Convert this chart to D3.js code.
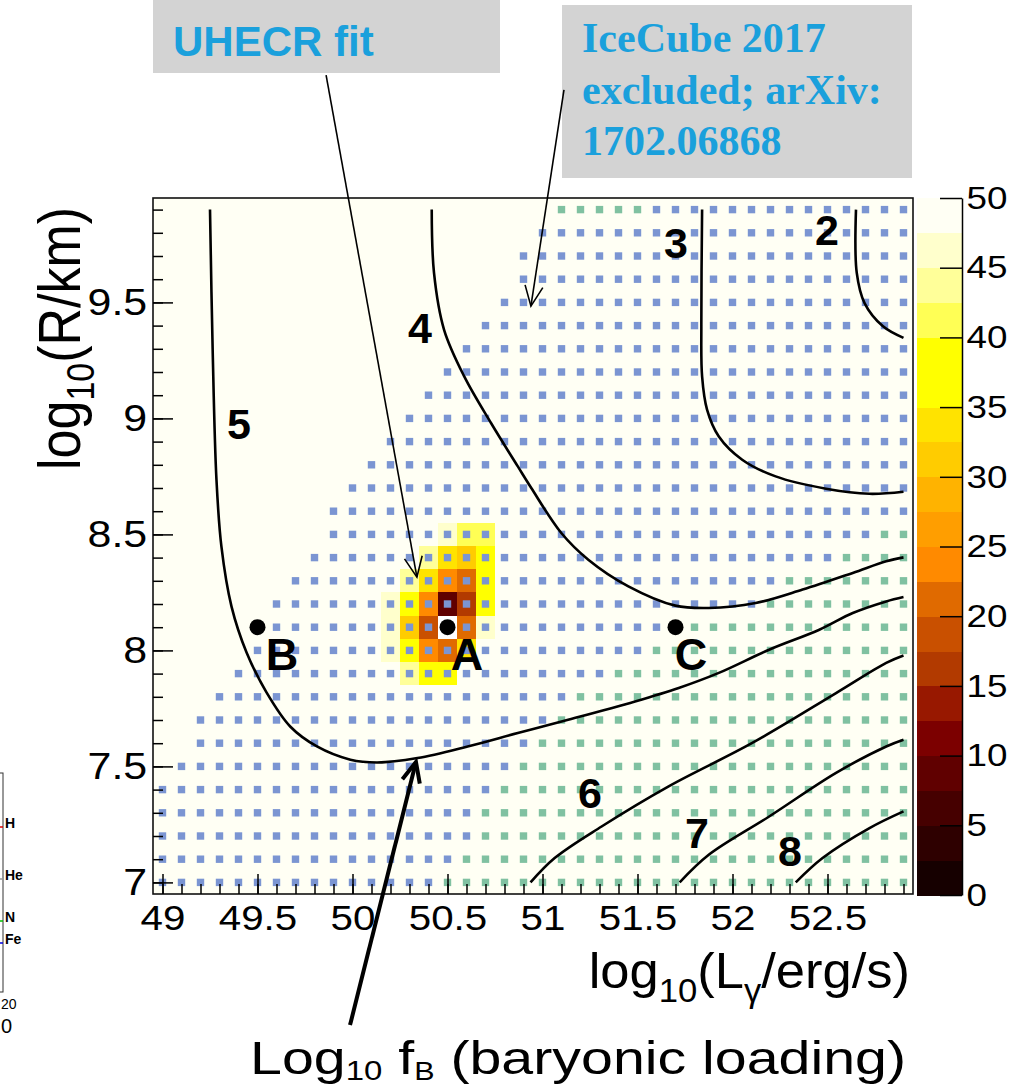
<!DOCTYPE html>
<html><head><meta charset="utf-8">
<script src="https://cdn.jsdelivr.net/npm/d3@7"></script>
<style>body{margin:0;background:#fff}svg{display:block}</style>
</head><body><svg id="c" width="1017" height="1090"></svg>
<script>
// ---------------- DATA ----------------
const xTicks = [49, 49.5, 50, 50.5, 51, 51.5, 52, 52.5];
const yTicks = [7, 7.5, 8, 8.5, 9, 9.5];
const zTicks = [0, 5, 10, 15, 20, 25, 30, 35, 40, 45, 50];
const bandEdges = [0,2.5,5,7.5,10,12.5,15,17.5,20,22.5,25,27.5,30,32.5,35,37.5,40,42.5,45,47.5,50];
const bandColors = ["#160000","#2e0000","#460000","#600000","#7c0000","#981800","#b23a00","#c95000",
  "#e06a00","#ff8a00","#ff9e00","#ffb300","#ffcc00","#ffe300","#ffff00","#ffff00","#ffff55","#ffff99","#ffffcc","#fffff4"];

// heat-map bins (0.1 x 0.1), all other bins are at the cap value
const binX0 = 49.0, binY0 = 7.0, nBinX = 40, nBinY = 30, binStep = 0.1;
const heatDefault = 50;
const heatX = [50.5,50.6,50.7, 50.4,50.5,50.6,50.7, 50.3,50.4,50.5,50.6,50.7, 50.2,50.3,50.4,50.5,50.6,50.7,
               50.2,50.3,50.4,50.5,50.6,50.7, 50.2,50.3,50.4,50.5,50.6, 50.3,50.4,50.5];
const heatY = [8.5,8.5,8.5, 8.4,8.4,8.4,8.4, 8.3,8.3,8.3,8.3,8.3, 8.2,8.2,8.2,8.2,8.2,8.2,
               8.1,8.1,8.1,8.1,8.1,8.1, 8.0,8.0,8.0,8.0,8.0, 7.9,7.9,7.9];
const heatV = [46,41,41, 43,33.5,30.5,38.5, 43,34,23.5,21,38.5, 46,38.5,23.5,9,16,38.5,
               46,32,18.5,0,21,46, 46,38.5,23.5,21,34, 43,38.5,38.5];

// marker grid rows (top to bottom): blue (allowed) and green (IceCube-excluded) ranges
const dotRowY   = [9.9,9.8,9.7,9.6,9.5,9.4,9.3,9.2,9.1,9.0,8.9,8.8,8.7,8.6,8.5,8.4,8.3,8.2,8.1,8.0,7.9,7.8,7.7,7.6,7.5,7.4,7.3,7.2,7.1,7.0];
const blueFrom  = [51.6,51.0,50.9,50.9,50.8,50.7,50.6,50.5,50.4,50.3,50.2,50.1,50.0,49.9,49.9,49.8,49.7,49.6,49.6,49.5,49.4,49.3,49.2,49.2,49.1,49.0,49.0,49.0,49.0,49.0];
const blueTo    = [52.9,52.9,52.9,52.9,52.9,52.9,52.9,52.9,52.9,52.9,52.9,52.9,52.9,52.9,52.7,52.5,52.2,52.1,51.6,51.5,51.3,51.1,51.0,50.9,50.8,50.7,50.6,50.6,50.5,50.4];
const greenFrom = [51.1,null,null,null,null,null,null,null,null,null,null,null,null,null,52.8,52.6,52.3,52.2,51.7,51.6,51.4,51.2,51.1,51.0,50.9,50.8,50.7,50.7,50.6,50.5];
const greenTo   = [51.5,null,null,null,null,null,null,null,null,null,null,null,null,null,52.9,52.9,52.9,52.9,52.9,52.9,52.9,52.9,52.9,52.9,52.9,52.9,52.9,52.9,52.9,52.9];

// baryonic-loading contours
const contourLabel = ["2","3","4","5","6","7","8"];
const contourX = [
  [52.65,52.654,52.695,52.792,52.9],
  [51.84,51.836,51.84,51.866,51.928,52.051,52.227,52.492,52.721,52.9],
  [50.417,50.429,50.482,50.588,50.729,50.870,50.941,51.099,51.241,51.452,51.699,51.875,52.122,52.369,52.633,52.809,52.9],
  [49.25,49.264,49.284,49.31,49.363,49.443,49.548,49.672,49.813,49.989,50.13,50.342,50.606,50.87,51.135,51.487,51.717,51.928,52.193,52.457,52.633,52.809,52.9],
  [50.937,51.064,51.311,51.664,52.104,52.545,52.809,52.9],
  [51.722,51.875,52.193,52.545,52.809,52.9],
  [52.333,52.474,52.721,52.9]
];
const contourY = [
  [9.9,9.627,9.497,9.397,9.347],
  [9.9,9.411,9.181,9.038,8.922,8.822,8.75,8.697,8.675,8.684],
  [9.9,9.627,9.382,9.181,8.98,8.793,8.70,8.506,8.391,8.276,8.193,8.183,8.204,8.262,8.334,8.384,8.401],
  [9.9,9.296,8.736,8.448,8.19,7.99,7.818,7.672,7.586,7.529,7.517,7.536,7.586,7.644,7.701,7.78,7.838,7.903,8.003,8.089,8.161,8.211,8.23],
  [7.0,7.105,7.241,7.414,7.601,7.816,7.946,7.978],
  [7.0,7.119,7.284,7.472,7.586,7.615],
  [7.0,7.105,7.234,7.306]
];
const contourLabelX = [52.497,51.703,50.355,49.403,51.250,51.813,52.303];
const contourLabelY = [9.812,9.756,9.390,8.976,7.385,7.213,7.135];

// benchmark points
const pointName = ["A","B","C"];
const pointX = [50.5, 49.5, 51.7];
const pointY = [8.1, 8.1, 8.1];
const pointLabelX = [50.603, 49.629, 51.782];
const pointLabelY = [7.984, 7.984, 7.984];

// annotation arrows [startX, startY] -> [tipX, tipY] in data units
const arrowName = ["UHECR", "IceCube", "baryon"];
const arrowX0 = [49.861, 51.113, 49.987];
const arrowY0 = [10.480, 10.416, 6.385];
const arrowX1 = [50.339, 50.939, 50.334];
const arrowY1 = [8.316, 9.484, 7.519];
const arrowWidth = [1.6, 1.6, 4];

// ---------------- DRAW ----------------
const sans = "'Liberation Sans', Arial, Helvetica, sans-serif";
const serif = "'Liberation Serif', 'Times New Roman', serif";
const svg = d3.select('#c');
const x = d3.scaleLinear().domain([48.95, 52.95]).range([153, 913]);
const y = d3.scaleLinear().domain([6.95, 9.95]).range([894, 198]);
const z = d3.scaleLinear().domain([0, 50]).range([895, 198]);
const color = d3.scaleThreshold().domain(bandEdges.slice(1, -1)).range(bandColors);

const key = (a, b) => Math.round(a * 10) + "_" + Math.round(b * 10);
const heatMap = new Map(heatX.map((d, i) => [key(d, heatY[i]), heatV[i]]));
const cells = [];
for (let i = 0; i < nBinX; i++) for (let j = 0; j < nBinY; j++) {
  const cx = +(binX0 + i * binStep).toFixed(1), cy = +(binY0 + j * binStep).toFixed(1);
  const v = heatMap.has(key(cx, cy)) ? heatMap.get(key(cx, cy)) : heatDefault;
  cells.push({cx, cy, v});
}
const plot = svg.append('g');
plot.append('rect').attr('x', x(48.95)).attr('y', y(9.95)).attr('width', x(52.95) - x(48.95))
  .attr('height', y(6.95) - y(9.95)).attr('fill', color(heatDefault));
plot.selectAll('rect.cell').data(cells.filter(d => d.v !== heatDefault)).join('rect')
  .attr('class', 'cell')
  .attr('x', d => x(d.cx - 0.05)).attr('y', d => y(d.cy + 0.05))
  .attr('width', d => x(d.cx + 0.05) - x(d.cx - 0.05))
  .attr('height', d => y(d.cy - 0.05) - y(d.cy + 0.05))
  .attr('fill', d => d.v <= 0 ? '#ffffff' : color(d.v))
  .attr('shape-rendering', 'crispEdges');

// marker grid
const dots = [];
dotRowY.forEach((ry, r) => {
  if (blueFrom[r] != null) for (let k = Math.round(blueFrom[r] * 10); k <= Math.round(blueTo[r] * 10); k++) dots.push({dx: k / 10, dy: ry, c: '#7b95d2'});
  if (greenFrom[r] != null) for (let k = Math.round(greenFrom[r] * 10); k <= Math.round(greenTo[r] * 10); k++) dots.push({dx: k / 10, dy: ry, c: '#80c1a1'});
});
const ds = 7.4;
plot.selectAll('rect.dot').data(dots).join('rect').attr('class', 'dot')
  .attr('x', d => x(d.dx) - ds / 2).attr('y', d => y(d.dy) - ds / 2)
  .attr('width', ds).attr('height', ds).attr('fill', d => d.c);

// contours
const line = d3.line().x(d => x(d[0])).y(d => y(d[1])).curve(d3.curveCatmullRom.alpha(0.5));
plot.selectAll('path.ct').data(contourX.map((xs, i) => xs.map((v, k) => [v, contourY[i][k]]))).join('path')
  .attr('class', 'ct').attr('d', line).attr('fill', 'none').attr('stroke', '#000').attr('stroke-width', 2.6);
plot.selectAll('text.ctl').data(contourLabel).join('text').attr('class', 'ctl')
  .attr('x', (d, i) => x(contourLabelX[i])).attr('y', (d, i) => y(contourLabelY[i]))
  .attr('text-anchor', 'middle').attr('dominant-baseline', 'central')
  .attr('font-family', sans).attr('font-weight', 'bold').attr('font-size', 43).text(d => d);

// points
plot.selectAll('circle.pt').data(pointName).join('circle').attr('class', 'pt')
  .attr('cx', (d, i) => x(pointX[i])).attr('cy', (d, i) => y(pointY[i])).attr('r', 8).attr('fill', '#000');
plot.selectAll('text.ptl').data(pointName).join('text').attr('class', 'ptl')
  .attr('x', (d, i) => x(pointLabelX[i])).attr('y', (d, i) => y(pointLabelY[i]))
  .attr('text-anchor', 'middle').attr('dominant-baseline', 'central')
  .attr('font-family', sans).attr('font-weight', 'bold').attr('font-size', 45).text(d => d);

// frame
svg.append('rect').attr('x', 153).attr('y', 198).attr('width', 760).attr('height', 696)
  .attr('fill', 'none').attr('stroke', '#111').attr('stroke-width', 1.6);

// axes
const fmt = d => String(d);
const xMinor = d3.range(490, 530).map(k => k / 10);
const yMinor = d3.range(70, 100).map(k => k / 10);
const gx = svg.append('g').attr('transform', 'translate(0,894)');
gx.call(d3.axisBottom(x).tickValues(xMinor).tickSize(-10).tickFormat(''));
const gxM = svg.append('g').attr('transform', 'translate(0,894)');
gxM.call(d3.axisBottom(x).tickValues(xTicks).tickSize(-20).tickPadding(10).tickFormat(fmt));
const gy = svg.append('g').attr('transform', 'translate(153,0)');
gy.call(d3.axisLeft(y).tickValues(yMinor).tickSize(-10).tickFormat(''));
const gyM = svg.append('g').attr('transform', 'translate(153,0)');
gyM.call(d3.axisLeft(y).tickValues(yTicks).tickSize(-20).tickPadding(5).tickFormat(fmt));
[gx, gxM, gy, gyM].forEach(g => { g.select('.domain').remove(); g.selectAll('line').attr('stroke', '#000').attr('stroke-width', 1.5); });
gxM.selectAll('text').attr('font-family', sans).attr('font-size', 36).attr('fill', '#000').attr('transform', 'scale(1.12,1)');
gyM.selectAll('text').attr('font-family', sans).attr('font-size', 37).attr('fill', '#000').attr('transform', 'scale(1.16,1)');

// axis titles
const yt = svg.append('text').attr('transform', 'translate(80,470) rotate(-90) scale(1,1.15)')
  .attr('font-family', sans).attr('font-size', 52).attr('fill', '#000');
yt.append('tspan').text('log');
yt.append('tspan').attr('font-size', 34).attr('dy', 12).text('10');
yt.append('tspan').attr('dy', -12).text('(R/km)');

const xt = svg.append('text').attr('transform', 'translate(910,988) scale(1.05,1)')
  .attr('text-anchor', 'end').attr('font-family', sans).attr('font-size', 50).attr('fill', '#000');
xt.append('tspan').text('log');
xt.append('tspan').attr('font-size', 33).attr('dy', 14).text('10');
xt.append('tspan').attr('dy', -14).text('(L');
xt.append('tspan').attr('font-size', 33).attr('dy', 14).text('γ');
xt.append('tspan').attr('dy', -14).text('/erg/s)');

// colour bar
const cb = svg.append('g');
cb.selectAll('rect').data(bandColors).join('rect')
  .attr('x', 917).attr('width', 45)
  .attr('y', (d, i) => z(bandEdges[i + 1])).attr('height', (d, i) => z(bandEdges[i]) - z(bandEdges[i + 1]) + 0.5)
  .attr('fill', d => d).attr('shape-rendering', 'crispEdges');
const gz = svg.append('g').attr('transform', 'translate(962,0)');
gz.call(d3.axisRight(z).tickValues(zTicks).tickSize(-22).tickSizeOuter(0).tickPadding(4).tickFormat(fmt));
gz.select('.domain').attr('stroke', '#000').attr('stroke-width', 1.5);
gz.selectAll('line').attr('stroke', '#000').attr('stroke-width', 1.5);
gz.selectAll('text').attr('font-family', sans).attr('font-size', 32).attr('fill', '#000').attr('transform', 'scale(1.15,1)');

// annotation boxes
svg.append('rect').attr('x', 153).attr('y', 0).attr('width', 347).attr('height', 73).attr('fill', '#d3d3d3');
svg.append('text').attr('x', 173).attr('y', 56).attr('font-family', sans).attr('font-weight', 'bold')
  .attr('font-size', 42).attr('fill', '#1aa0dc').text('UHECR fit');
svg.append('rect').attr('x', 562).attr('y', 5).attr('width', 350).attr('height', 173).attr('fill', '#d3d3d3');
const iceLines = ['IceCube 2017', 'excluded; arXiv:', '1702.06868'];
svg.selectAll('text.ice').data(iceLines).join('text').attr('class', 'ice')
  .attr('x', 582).attr('y', (d, i) => 52 + i * 51.5)
  .attr('font-family', serif).attr('font-weight', 'bold').attr('font-size', 42).attr('fill', '#1aa0dc').text(d => d);

// arrows
const ag = svg.append('g');
arrowName.forEach((n, i) => {
  const x0 = x(arrowX0[i]), y0 = y(arrowY0[i]), x1 = x(arrowX1[i]), y1 = y(arrowY1[i]);
  const ang = Math.atan2(y0 - y1, x0 - x1), L = 22, a = 0.42;
  ag.append('line').attr('x1', x0).attr('y1', y0).attr('x2', x1).attr('y2', y1)
    .attr('stroke', '#000').attr('stroke-width', arrowWidth[i]);
  ag.append('path').attr('d', `M${x1 + L * Math.cos(ang + a)},${y1 + L * Math.sin(ang + a)}L${x1},${y1}L${x1 + L * Math.cos(ang - a)},${y1 + L * Math.sin(ang - a)}`)
    .attr('fill', 'none').attr('stroke', '#000').attr('stroke-width', arrowWidth[i]).attr('stroke-linejoin', 'miter');
});

// bottom caption
const bt = svg.append('text').attr('transform', 'translate(250,1074) scale(1.22,1)')
  .attr('font-family', sans).attr('font-size', 47).attr('fill', '#000');
bt.append('tspan').text('Log');
bt.append('tspan').attr('font-size', 27).attr('dy', 6).text('10');
bt.append('tspan').attr('dy', -6).text(' f');
bt.append('tspan').attr('font-size', 25).attr('dy', 6).text('B');
bt.append('tspan').attr('dy', -6).text(' (baryonic loading)');

// cropped neighbouring panel at the left edge
const lp = svg.append('g');
lp.append('rect').attr('x', -10).attr('y', 773).attr('width', 13).attr('height', 219).attr('fill', 'none').attr('stroke', '#333').attr('stroke-width', 1);
const lpLab = ['H', 'He', 'N', 'Fe'], lpY = [828, 880, 922, 944], lpCol = ['#e00000', '#999999', '#00c000', '#0000e0'];
lpLab.forEach((t, i) => {
  lp.append('line').attr('x1', 0).attr('x2', 3).attr('y1', lpY[i] - 1).attr('y2', lpY[i] - 1).attr('stroke', lpCol[i]).attr('stroke-width', 1.5);
  lp.append('text').attr('x', 5).attr('y', lpY[i]).attr('font-family', sans).attr('font-weight', 'bold').attr('font-size', 14).text(t);
});
lp.append('text').attr('x', 1).attr('y', 1009).attr('font-family', sans).attr('font-size', 14).text('20');
lp.append('text').attr('x', 1).attr('y', 1033).attr('font-family', sans).attr('font-size', 20).text('0');
</script></body></html>
